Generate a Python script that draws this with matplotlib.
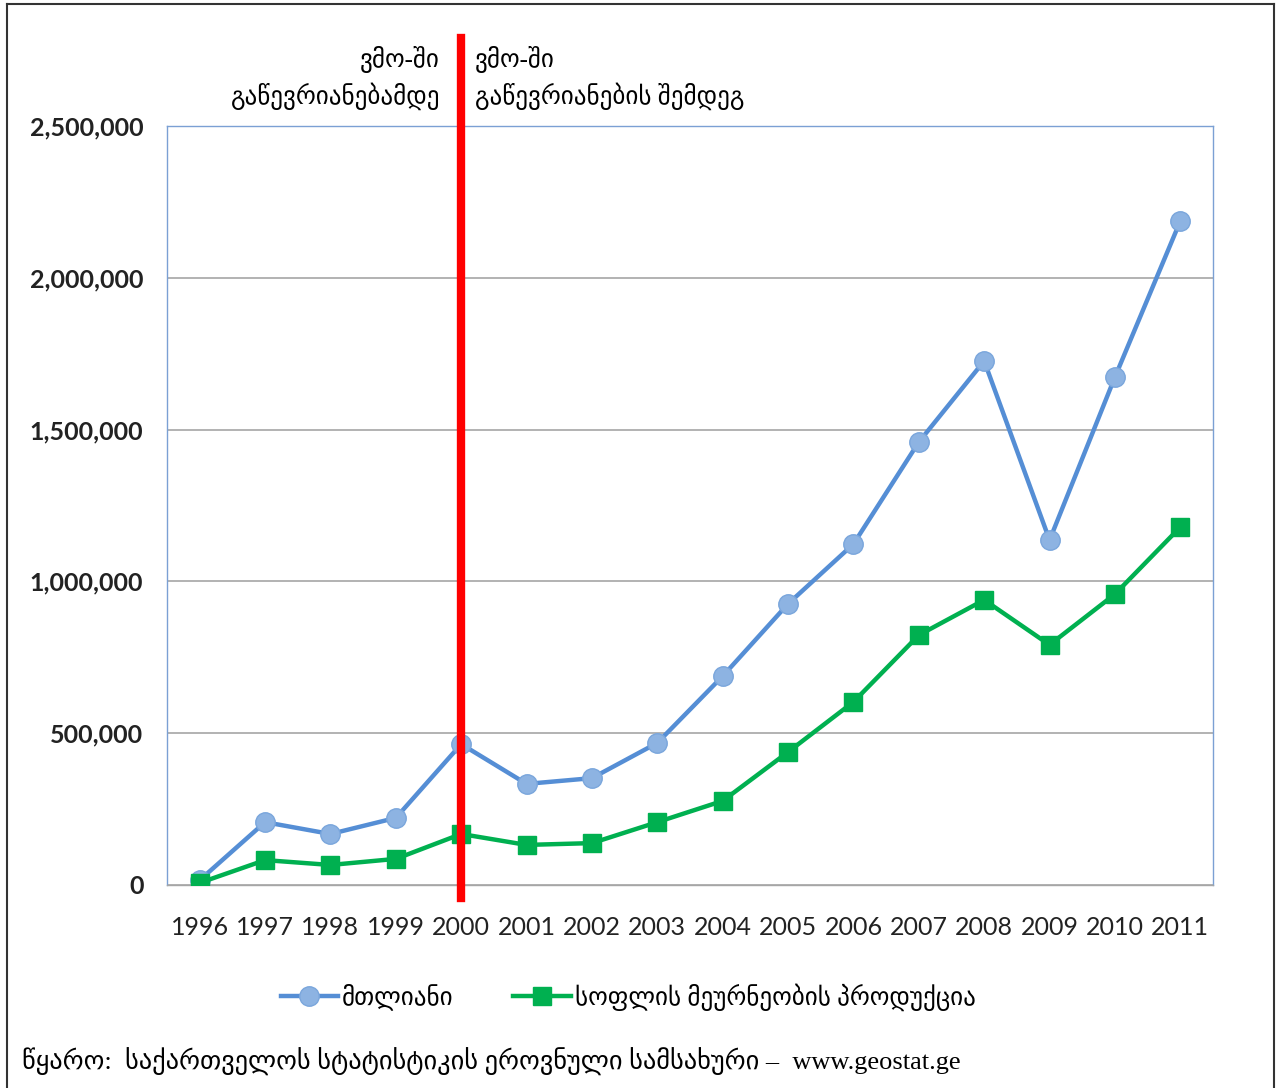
import matplotlib
matplotlib.use('Agg')
import matplotlib.pyplot as plt
from matplotlib.lines import Line2D
from matplotlib.ticker import FuncFormatter

years = ['1996', '1997', '1998', '1999', '2000', '2001', '2002', '2003',
         '2004', '2005', '2006', '2007', '2008', '2009', '2010', '2011']
total = [16000, 207000, 168000, 221000, 464000, 333000, 352000, 468000,
         688000, 926000, 1123000, 1459000, 1726000, 1136000, 1673000, 2187000]
agri = [7000, 82000, 66000, 86000, 168000, 132000, 138000, 207000,
        277000, 438000, 603000, 823000, 939000, 791000, 958000, 1179000]
label_total = 'მთლიანი'
label_agri = 'სოფლის მეურნეობის პროდუქცია'
note_before = 'ვმო-ში\nგაწევრიანებამდე'
note_after = 'ვმო-ში\nგაწევრიანების შემდეგ'
source = 'წყარო:  საქართველოს სტატისტიკის ეროვნული სამსახური –  www.geostat.ge'
wto_year = '2000'

geo_font = ['Liberation Serif', 'DejaVu Sans']

fig = plt.figure(figsize=(12.78, 10.88), dpi=100)
ax = fig.add_axes([167 / 1278, 1 - 885 / 1088, (1213 - 167) / 1278, (885 - 126) / 1088])

x = list(range(len(years)))
ax.plot(x, total, color='#558ed5', lw=3.2, marker='o', ms=14,
        mfc='#8db3e2', mec='#7aa6dc', mew=1, label=label_total, zorder=3)
ax.plot(x, agri, color='#00b050', lw=3.2, marker='s', ms=13,
        mfc='#00b050', mec='#00b050', label=label_agri, zorder=3)

ax.set_xlim(-0.5, len(years) - 0.5)
ax.set_ylim(0, 2500000)
ax.set_yticks([0, 500000, 1000000, 1500000, 2000000, 2500000])
ax.yaxis.set_major_formatter(FuncFormatter(lambda v, p: f'{int(v):,}'))
ax.set_xticks(x)
ax.set_xticklabels(years)
ax.grid(axis='y', color='#a6a6a6', lw=1.2)
ax.set_axisbelow(True)
for s in ax.spines.values():
    s.set_color('#7ba0d4')
    s.set_linewidth(1)
ax.spines['bottom'].set_color('#a6a6a6')
ax.tick_params(length=0)
ax.tick_params(axis='y', pad=17)
ax.tick_params(axis='x', pad=22)
for t in ax.get_yticklabels():
    t.set_fontfamily('Lato')
    t.set_fontweight('bold')
    t.set_fontsize(18)
    t.set_color('#222222')
for t in ax.get_xticklabels():
    t.set_fontfamily('Lato')
    t.set_fontsize(18)
    t.set_color('#222222')

# WTO accession line
xi = years.index(wto_year)
ax.axvline(xi, ymin=-13 / 759, ymax=847 / 759, color='#ff0000', lw=6,
           clip_on=False, zorder=4)

fig.text(440 / 1278, 1 - 78 / 1088, note_before, ha='right', va='center',
         fontsize=18, family=geo_font, linespacing=1.45)
fig.text(475 / 1278, 1 - 78 / 1088, note_after, ha='left', va='center',
         fontsize=18, family=geo_font, linespacing=1.45)

leg = fig.legend(loc='center', bbox_to_anchor=(628 / 1278, 1 - 997 / 1088),
                 ncol=2, frameon=False, prop={'family': geo_font, 'size': 18},
                 handlelength=2.3, columnspacing=2.4, handletextpad=0.15)

fig.text(22 / 1278, 1 - 1062 / 1088, source, ha='left', va='center',
         fontsize=19, family=geo_font)

# figure frame
fig.add_artist(Line2D([7 / 1278, 7 / 1278], [0, 1 - 4 / 1088], color='#333333', lw=1.5))
fig.add_artist(Line2D([7 / 1278, 1274 / 1278], [1 - 4 / 1088, 1 - 4 / 1088], color='#333333', lw=1.5))
fig.add_artist(Line2D([1274 / 1278, 1274 / 1278], [0, 1 - 4 / 1088], color='#333333', lw=1.5))

fig.savefig('out.png', dpi=100)
